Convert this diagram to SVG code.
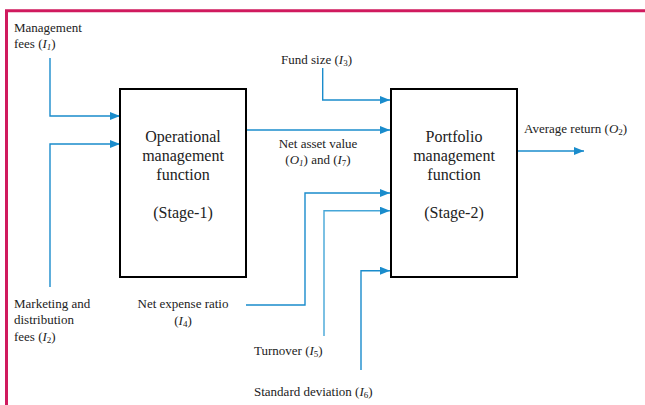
<svg xmlns="http://www.w3.org/2000/svg" width="645" height="405" viewBox="0 0 645 405">
<style>
text{font-family:"Liberation Serif","Times New Roman",serif;fill:#222}
.lbl{font-size:13px}
.box{font-size:16px;text-anchor:middle}
.i{font-style:italic}
.s{font-size:9px}
.c{fill:none;stroke:#1a8ccc;stroke-width:1.4}
.ca{fill:none;stroke:#1a8ccc;stroke-width:1.4;marker-end:url(#ah)}
.n{fill:#fff;stroke:#000;stroke-width:2}
</style>
<defs>
<marker id="ah" viewBox="0 0 10 8" refX="10" refY="4" markerWidth="10" markerHeight="8" markerUnits="userSpaceOnUse" orient="auto">
<path d="M0,0L10,4L0,8z" fill="#1a8ccc"/>
</marker>
</defs>
<rect width="645" height="405" fill="#fff"/>
<path d="M6.5,405V10.7H645" fill="none" stroke="#d01a5e" stroke-width="3"/>
<g id="connectors">
<path class="ca" d="M50,58V116H120"/>
<path class="ca" d="M50,287V144H120"/>
<path class="ca" d="M246,130H390"/>
<path class="ca" d="M322.7,68V100H390"/>
<path class="ca" d="M246,305H305V193H390"/>
<path class="ca" d="M324,336V210.7H390" style="stroke:#45a6d8"/>
<path class="ca" d="M361,370V270.7H390"/>
<path class="ca" d="M517,151H584"/>
</g>
<g id="stage1">
<rect class="n" x="120" y="89" width="126" height="188"/>
<text class="box" x="183" y="141.5">Operational</text>
<text class="box" x="183" y="160.5">management</text>
<text class="box" x="183" y="179.5">function</text>
<text class="box" x="183" y="218">(Stage-1)</text>
</g>
<g id="stage2">
<rect class="n" x="391" y="89" width="126" height="188"/>
<text class="box" x="454" y="141.5">Portfolio</text>
<text class="box" x="454" y="160.5">management</text>
<text class="box" x="454" y="179.5">function</text>
<text class="box" x="454" y="218">(Stage-2)</text>
</g>
<g id="labels">
<text class="lbl" x="14" y="32">Management</text>
<text class="lbl" x="14" y="48">fees (<tspan class="i">I</tspan><tspan class="s i" dy="2">1</tspan><tspan dy="-2">)</tspan></text>
<text class="lbl" x="14" y="308">Marketing and</text>
<text class="lbl" x="14" y="324">distribution</text>
<text class="lbl" x="14" y="341">fees (<tspan class="i">I</tspan><tspan class="s" dy="2">2</tspan><tspan dy="-2">)</tspan></text>
<text class="lbl" x="183" y="308" text-anchor="middle">Net expense ratio</text>
<text class="lbl" x="183" y="325" text-anchor="middle">(<tspan class="i">I</tspan><tspan class="s" dy="2">4</tspan><tspan dy="-2">)</tspan></text>
<text class="lbl" x="254" y="355">Turnover (<tspan class="i">I</tspan><tspan class="s" dy="2">5</tspan><tspan dy="-2">)</tspan></text>
<text class="lbl" x="254" y="396">Standard deviation (<tspan class="i">I</tspan><tspan class="s" dy="2">6</tspan><tspan dy="-2">)</tspan></text>
<text class="lbl" x="281" y="64">Fund size (<tspan class="i">I</tspan><tspan class="s" dy="2">3</tspan><tspan dy="-2">)</tspan></text>
<text class="lbl" x="318" y="148" text-anchor="middle">Net asset value</text>
<text class="lbl" x="318" y="164" text-anchor="middle">(<tspan class="i">O</tspan><tspan class="s i" dy="2">1</tspan><tspan dy="-2">) and (</tspan><tspan class="i">I</tspan><tspan class="s" dy="2">7</tspan><tspan dy="-2">)</tspan></text>
<text class="lbl" x="524" y="133">Average return (<tspan class="i">O</tspan><tspan class="s" dy="2">2</tspan><tspan dy="-2">)</tspan></text>
</g>
</svg>
